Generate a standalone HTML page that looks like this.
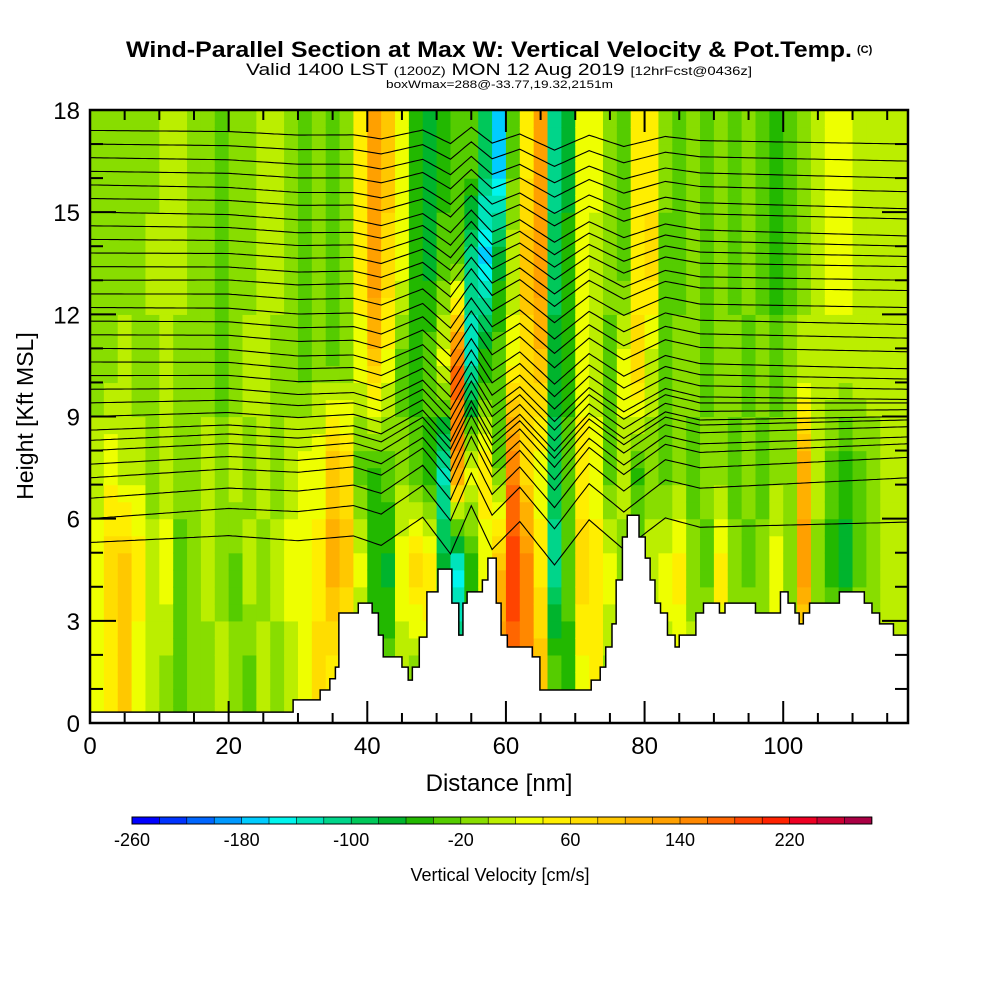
<!DOCTYPE html>
<html><head><meta charset="utf-8"><style>
body{margin:0;background:#fff}
svg text{font-family:"Liberation Sans",sans-serif}
</style></head><body>
<svg id="chart" width="1000" height="1000" viewBox="0 0 1000 1000" xmlns="http://www.w3.org/2000/svg">
<rect width="1000" height="1000" fill="#fff"/>
<g>
<text x="126" y="57" font-size="22" font-weight="bold" textLength="726" lengthAdjust="spacingAndGlyphs">Wind-Parallel Section at Max W: Vertical Velocity &amp; Pot.Temp.</text>
<text x="857" y="53" font-size="11" font-weight="bold">(C)</text>
</g>
<text x="246" y="75" font-size="17" textLength="506" lengthAdjust="spacingAndGlyphs">Valid 1400 LST <tspan font-size="12">(1200Z)</tspan> MON 12 Aug 2019 <tspan font-size="12">[12hrFcst@0436z]</tspan></text>
<text x="386" y="88" font-size="11" textLength="227" lengthAdjust="spacingAndGlyphs">boxWmax=288@-33.77,19.32,2151m</text>
<g id="plot"></g>
<text transform="translate(33,416) rotate(-90)" text-anchor="middle" font-size="23">Height [Kft MSL]</text>
<text x="499" y="791" text-anchor="middle" font-size="24">Distance [nm]</text>
<g id="cbar"></g>
<text x="500" y="881" text-anchor="middle" font-size="18">Vertical Velocity [cm/s]</text>
</svg>
<script>
// ---- data ----
const rowBottoms = [15, 12, 9, 6, 3, 0]; // kft, each row 3 kft tall
const colWidthNm = 2;
const wR1 = [-10,-10,-10,-10,-10,10,10,-10,-10,-30,-10,-10,10,10,-10,-30,-10,-30,-10,50,130,90,30,-50,-70,-50,-30,-30,-90,-170,-30,50,130,-110,-70,30,30,-10,-30,50,50,-10,-30,-10,-30,-10,-30,-10,-30,-50,-30,-10,10,30,30,10,10,10,10];
const wR2 = [-10,-10,-10,-10,10,10,10,-10,-10,-30,-10,-10,10,10,-10,-30,-10,-30,-10,50,130,70,30,-50,-70,-30,-30,-110,-170,-70,10,90,130,-90,-50,30,10,-10,-30,50,70,-30,-30,-10,-30,-10,-30,-10,-30,-50,-30,-10,10,30,30,10,10,10,10];
const wR3 = [-10,-10,10,-10,-10,10,-10,-10,-10,-30,-10,10,10,-10,-10,-30,-10,-30,-10,30,90,30,-30,-50,-30,30,170,-130,-50,-30,30,70,90,-70,-50,30,10,-30,30,70,10,-30,-10,-10,-30,-10,-10,-30,-10,-30,-10,10,10,10,10,10,10,10,10];
const wR4 = [10,30,10,10,-10,10,-10,-10,10,-10,10,-10,10,-10,10,30,30,90,70,-30,-50,-30,-10,-30,-50,-130,130,30,50,-30,150,70,30,-90,-30,50,30,-30,10,-50,-10,-30,-10,-30,-10,-10,-30,-10,-30,-10,-10,110,10,-30,-50,-30,-10,10,10];
const wR5 = [30,70,90,50,10,30,-30,-10,10,-10,-30,10,-10,10,30,30,50,110,90,30,-50,-70,30,70,50,-70,-150,-50,30,110,190,150,50,-110,-30,70,50,30,-10,-10,10,30,50,-10,-30,50,-10,-30,-10,30,-10,130,-10,-50,-70,-30,-10,10,10];
const wR6 = [30,50,90,30,10,-10,-30,-10,-10,10,-10,-30,10,-10,10,30,70,50,30,-30,-50,-30,10,-10,30,-50,-90,-30,50,130,170,150,90,-30,-50,30,50,-10,30,10,10,10,10,10,10,10,10,10,10,10,10,10,10,10,10,10,10,10,10];
const wRows = [wR1, wR2, wR3, wR4, wR5, wR6];
const terrainX = [0,29.3,33.2,34.6,35.4,35.9,38.7,40.7,41.6,42.3,45.0,45.9,46.5,47.5,48.6,50.2,52.2,53.2,53.8,54.4,56.6,57.4,58.6,59.3,60.2,63.8,64.9,72.3,73.6,74.4,75.3,75.9,76.8,77.5,79.2,80.1,80.8,81.5,82.3,83.3,84.4,85.0,87.4,88.5,90.8,91.6,96.0,99.6,100.7,101.7,102.3,102.9,103.8,108.1,111.7,112.8,113.9,115.9,118];
const terrainH = [0.32,0.68,0.97,1.3,1.64,3.23,3.52,3.23,2.58,1.94,1.64,1.26,1.64,2.52,3.85,4.52,3.52,2.58,3.52,3.85,4.2,4.84,3.52,2.58,2.23,1.94,0.97,1.26,1.64,2.23,2.91,4.2,5.46,6.1,5.46,4.84,4.2,3.52,3.23,2.58,2.23,2.58,3.23,3.52,3.23,3.52,3.23,3.85,3.52,3.23,2.91,3.23,3.52,3.85,3.52,3.23,2.91,2.58,2.58];
const thetaLeft = [17.4,17.0,16.6,16.2,15.8,15.4,15.0,14.6,14.2,13.8,13.4,13.0,12.6,12.2,11.8,11.4,11.0,10.6,10.2,9.8,9.4,9.0,8.6,8.3,8.0,7.6,7.2,6.6,6.0,5.3];
const thetaRight = [17.0,16.5,16.0,15.6,15.1,14.8,14.3,14.0,13.7,13.4,13.0,12.7,12.2,11.7,11.3,10.9,10.4,10.1,9.8,9.5,9.4,9.2,9.0,8.9,8.7,8.4,8.2,7.8,7.2,5.9];
const waveX = [0,20,30,38,42,48,52,55,58,62,67,72,77,79,83,88,100,118];
const waveA = [0,0.1,-0.1,0,-0.3,0.5,-0.6,0.8,-0.5,0.3,-1.0,0.3,-0.6,-0.3,0.3,0,0,0];
const cbarTicks = [-260,-180,-100,-20,60,140,220];
const palette = ["#0000ff","#0033ff","#0066ff","#0099ff","#00ccff","#00f5ee","#00e4bb","#00d58a","#00c85a","#00b42d","#22b800","#55cc00","#88dd00","#bbee00","#eeff00","#ffee00","#ffdd00","#ffc800","#ffb000","#ffa000","#ff8800","#ff6600","#ff4400","#ff2200","#ee0022","#cc0033","#aa0044"];
const xTicks = [0,20,40,60,80,100];
const yTicks = [0,3,6,9,12,15,18];

// ---- axes ----
const X0=90,X1=908,Y0=723,Y1=110,XMAX=118,YMAX=18;
const xs = v => X0 + v/XMAX*(X1-X0);
const ys = v => Y0 - v/YMAX*(Y0-Y1);
const colorOf = w => palette[Math.max(0,Math.min(26,Math.floor((w+260)/20)))];
const NS="http://www.w3.org/2000/svg";
function mk(tag, parent, attrs){const e=document.createElementNS(NS,tag);for(const k in attrs)e.setAttribute(k,attrs[k]);parent.appendChild(e);return e;}
const plot=document.getElementById('plot');
const clip=mk('clipPath',plot,{id:'pc'});mk('rect',clip,{x:X0,y:Y1,width:X1-X0,height:Y0-Y1});
const heat=mk('g',plot,{'clip-path':'url(#pc)'});


// vertical interpolation between row centres (sub-cells of 0.5 kft)
const centers=rowBottoms.map(b=>b+1.5);
function wAt(c,h){
  if(h>=centers[0])return wRows[0][c];
  if(h<=centers[centers.length-1])return wRows[wRows.length-1][c];
  for(let r=0;r<centers.length-1;r++){
    if(h<=centers[r]&&h>=centers[r+1]){const t=(centers[r]-h)/3;return wRows[r][c]*(1-t)+wRows[r+1][c]*t;}
  }
  return 0;
}
const nCols=wRows[0].length;
for(let c=0;c<nCols;c++){
  for(let h=0;h<YMAX;h+=0.5){
    const w=wAt(c,h+0.25);
    const x0=xs(c*colWidthNm), x1=xs((c+1)*colWidthNm);
    const cell=mk('rect',heat,{x:x0,y:ys(h+0.5),width:x1-x0+0.6,height:ys(h)-ys(h+0.5)+0.6,fill:colorOf(w)});
    
    
  }
}
function wave(x){for(let i=0;i<waveX.length-1;i++){if(x>=waveX[i]&&x<=waveX[i+1]){const t=(x-waveX[i])/(waveX[i+1]-waveX[i]);return waveA[i]+t*(waveA[i+1]-waveA[i]);}}return 0;}
const cont=mk('g',plot,{'clip-path':'url(#pc)',fill:'none',stroke:'#000','stroke-width':1.1});


const n=thetaLeft.length;
thetaLeft.forEach((hl,i)=>{
  const amp=0.35+0.65*i/(n-1);
  let d='';
  for(let x=0;x<=XMAX;x+=0.5){
    const t=x/XMAX;
    const h=hl+(thetaRight[i]-hl)*t+wave(x)*amp;
    d+=(x===0?'M':'L')+xs(x).toFixed(1)+','+ys(h).toFixed(1);
  }
  const p=mk('path',cont,{d:d});
  
  
});
// terrain mask
let td='M'+xs(0)+','+ys(0);
terrainX.forEach((x,i)=>{const h=terrainH[i];td+=' L'+xs(x)+','+ys(i>0?terrainH[i-1]:h)+' L'+xs(x)+','+ys(h);});
td+=' L'+xs(XMAX)+','+ys(0)+' Z';
const terr=mk('path',plot,{d:td,fill:'#fff',stroke:'#000','stroke-width':1.5,'clip-path':'url(#pc)'});


// frame & ticks
const frame=mk('rect',plot,{x:X0,y:Y1,width:X1-X0,height:Y0-Y1,fill:'none',stroke:'#000','stroke-width':2.5});


const tk=mk('g',plot,{stroke:'#000','stroke-width':2});
for(let v=0;v<=XMAX;v+=5){const L=v%20===0?22:10;mk('line',tk,{x1:xs(v),y1:Y0,x2:xs(v),y2:Y0-L});mk('line',tk,{x1:xs(v),y1:Y1,x2:xs(v),y2:Y1+L});}
for(let v=0;v<=YMAX;v++){const L=v%3===0?26:13;mk('line',tk,{x1:X0,y1:ys(v),x2:X0+L,y2:ys(v)});mk('line',tk,{x1:X1,y1:ys(v),x2:X1-L,y2:ys(v)});}
xTicks.forEach(v=>{const t=mk('text',plot,{x:xs(v),y:754,'text-anchor':'middle','font-size':24});t.textContent=v;

});
yTicks.forEach(v=>{const t=mk('text',plot,{x:80,y:ys(v)+9,'text-anchor':'end','font-size':24});t.textContent=v;

});
// colorbar
const cb=document.getElementById('cbar');
const CB0=132,CBW=27.4;
palette.forEach((c,i)=>{const r=mk('rect',cb,{x:CB0+i*CBW,y:817,width:CBW+0.3,height:7,fill:c});

});
mk('rect',cb,{x:CB0,y:817,width:CBW*27,height:7,fill:'none',stroke:'#000','stroke-width':1});
for(let i=0;i<=27;i++)mk('line',cb,{x1:CB0+i*CBW,y1:817,x2:CB0+i*CBW,y2:824,stroke:'#000','stroke-width':0.6});
cbarTicks.forEach(v=>{const t=mk('text',cb,{x:CB0+(v+260)/20*CBW,y:846,'text-anchor':'middle','font-size':18});t.textContent=v;

});
</script>
</body></html>
